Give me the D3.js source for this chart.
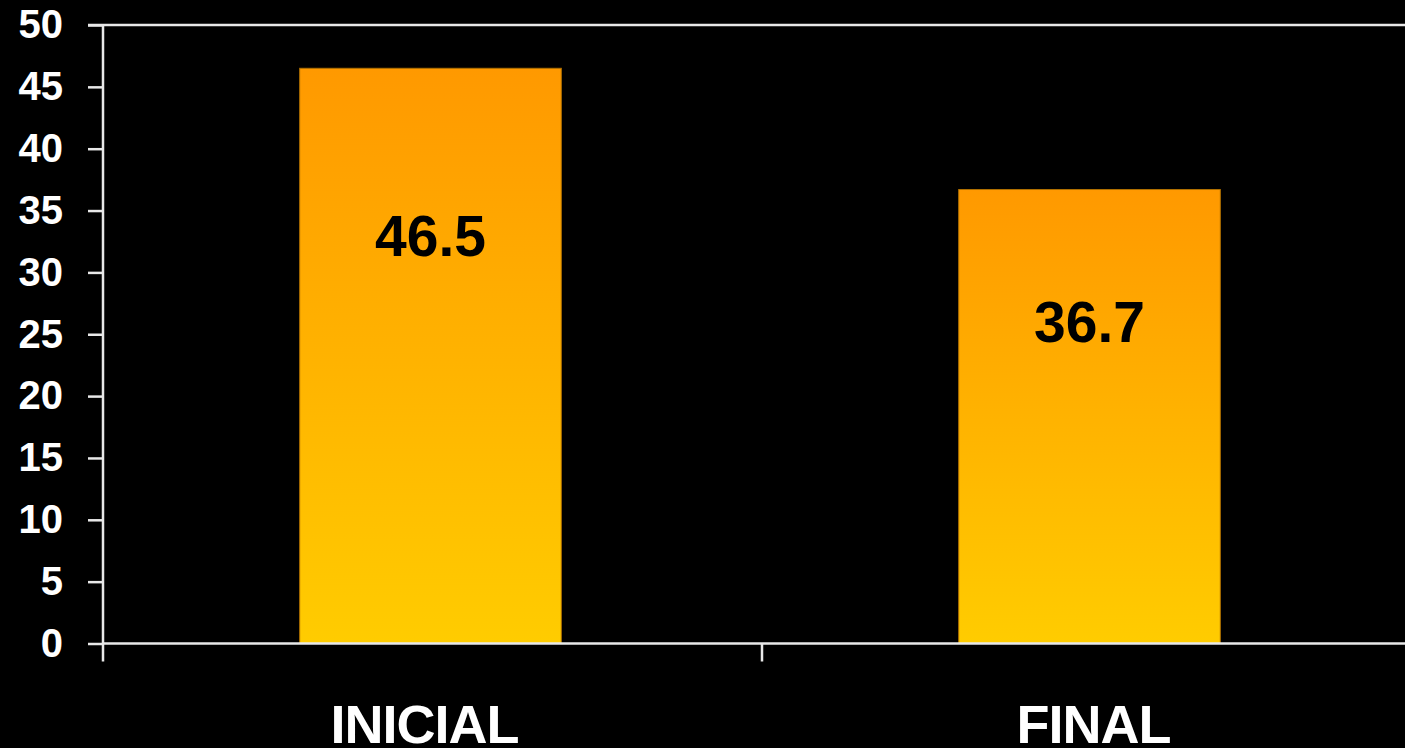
<!DOCTYPE html>
<html>
<head>
<meta charset="utf-8">
<script src="https://cdn.jsdelivr.net/npm/d3@7/dist/d3.min.js"></script>
<style>
  html, body { margin: 0; padding: 0; background: #000; overflow: hidden; }
  text { font-family: "Liberation Sans", Arial, sans-serif; font-weight: bold; }
</style>
</head>
<body>
<svg id="chart" width="1405" height="748"></svg>
<script>
const categories = ['INICIAL', 'FINAL'];
const values = [46.5, 36.7];
const yTicks = [0, 5, 10, 15, 20, 25, 30, 35, 40, 45, 50];

const svg = d3.select('#chart').style('background-color', 'black');
const plotLeft = 103, plotTop = 25, plotBottom = 643.5, plotRight = 1421;
const lineColor = '#e8e8e8';

const x = d3.scaleBand().domain(categories).range([plotLeft, plotRight]);
const y = d3.scaleLinear().domain([0, 50]).range([plotBottom, plotTop]);

const defs = svg.append('defs');
const grad = defs.append('linearGradient').attr('id', 'barGrad')
  .attr('x1', 0).attr('y1', 0).attr('x2', 0).attr('y2', 1);
grad.append('stop').attr('offset', '0%').attr('stop-color', '#ff9900');
grad.append('stop').attr('offset', '100%').attr('stop-color', '#ffcc00');

// bars
const barW = x.bandwidth() * 0.397;
svg.append('g').selectAll('rect').data(values).enter().append('rect')
  .attr('x', (d, i) => x(categories[i]) + x.bandwidth() / 2 - barW / 2 - 2)
  .attr('y', d => y(d))
  .attr('width', barW)
  .attr('height', d => y(0) - y(d))
  .attr('fill', 'url(#barGrad)')
  .attr('stroke', '#b07000')
  .attr('stroke-width', 1);

// value labels
svg.append('g').selectAll('text').data(values).enter().append('text')
  .attr('x', (d, i) => x(categories[i]) + x.bandwidth() / 2 - 2)
  .attr('y', d => y(d * 0.71) + 21)
  .attr('text-anchor', 'middle')
  .attr('font-size', 57)
  .attr('fill', '#000')
  .text(d => d.toFixed(1));

// top border line at 50
svg.append('line')
  .attr('x1', plotLeft - 15).attr('x2', plotRight)
  .attr('y1', y(50)).attr('y2', y(50))
  .attr('stroke', lineColor).attr('stroke-width', 2.5);

// y axis
const yAxis = svg.append('g').attr('transform', `translate(${plotLeft},0)`)
  .call(d3.axisLeft(y).tickValues(yTicks).tickSize(15).tickPadding(25));
yAxis.select('.domain').attr('stroke', lineColor).attr('stroke-width', 2.5)
  .attr('d', `M0,${plotTop}V${plotBottom + 18}`);
yAxis.selectAll('.tick line').attr('stroke', lineColor).attr('stroke-width', 2.5);
yAxis.selectAll('.tick text').attr('fill', '#fff').attr('font-size', 40)
  .attr('font-family', '"Liberation Sans", Arial, sans-serif').attr('font-weight', 'bold');

// x axis
svg.append('line')
  .attr('x1', plotLeft).attr('x2', plotRight)
  .attr('y1', plotBottom).attr('y2', plotBottom)
  .attr('stroke', lineColor).attr('stroke-width', 2.5);
svg.append('g').selectAll('line').data(categories.slice(1)).enter().append('line')
  .attr('x1', d => x(d)).attr('x2', d => x(d))
  .attr('y1', plotBottom).attr('y2', plotBottom + 18)
  .attr('stroke', lineColor).attr('stroke-width', 2.5);

svg.append('g').selectAll('text').data(categories).enter().append('text')
  .attr('x', (d, i) => x(d) + x.bandwidth() / 2 - (i === 0 ? 8 : -2))
  .attr('y', 743)
  .attr('text-anchor', 'middle')
  .attr('font-size', 54)
  .attr('letter-spacing', -1)
  .attr('fill', '#fff')
  .text(d => d);
</script>
</body>
</html>
